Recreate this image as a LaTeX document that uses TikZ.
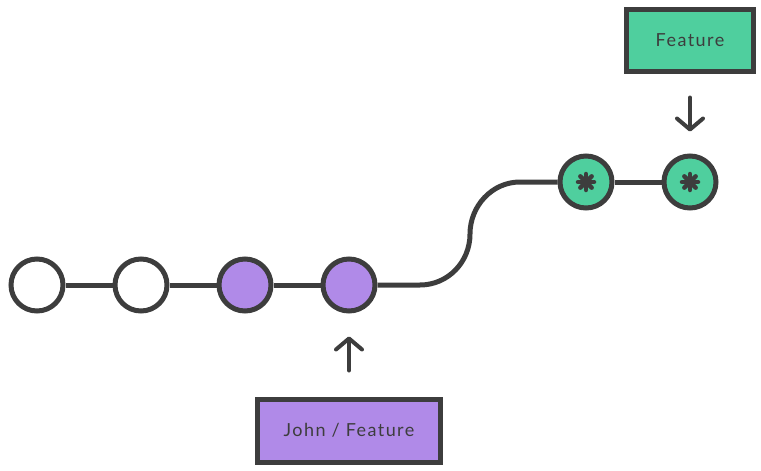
\documentclass[tikz,border=0pt]{standalone}
\usepackage{fontspec}
\setmainfont[LetterSpace=8]{Lato}
\usetikzlibrary{positioning, arrows.meta, calc}

\definecolor{ink}{HTML}{3D3D3D}
\definecolor{featgreen}{HTML}{4FCF9E}
\definecolor{johnpurple}{HTML}{B08AE8}

\tikzset{
    commit/.style={circle, draw=ink, line width=5pt, minimum size=52pt, inner sep=0pt, fill=white},
    mine/.style={commit, fill=johnpurple},
    theirs/.style={commit, fill=featgreen, path picture={
        \foreach \a in {0,45,90,135}
            \draw[ink, line width=4.5pt, line cap=round]
                ($(path picture bounding box.center)+(\a:8pt)$) -- ($(path picture bounding box.center)+(\a+180:8pt)$);
    }},
    branch/.style={draw=ink, line width=5pt, inner sep=0pt, font=\fontsize{18}{22}\selectfont, text=ink},
    pointer/.style={ink, line width=4pt, line cap=round, -{Straight Barb[length=11pt, width=26pt, round]}},
    link/.style={ink, line width=5pt}
}

\begin{document}
\begin{tikzpicture}[x=1pt, y=-1pt, node distance=104pt, on grid]
    \useasboundingbox (0,0) rectangle (761,471);

    \node[commit] (c1) at (37,285) {};
    \node[commit] (c2) [right=of c1] {};
    \node[mine] (c3) [right=of c2] {};
    \node[mine] (c4) [right=of c3] {};

    \node[theirs] (f1) at (586,182) {};
    \node[theirs] (f2) [right=of f1] {};

    \node[branch, fill=featgreen, minimum width=127pt, minimum height=62pt] (feat) [above=142pt of f2] {Feature};
    \node[branch, fill=johnpurple, minimum width=183pt, minimum height=63pt] (john) [below=145.5pt of c4] {John / Feature};

    \draw[link] (c1) -- (c2);
    \draw[link] (c2) -- (c3);
    \draw[link] (c3) -- (c4);
    \draw[link] (f1) -- (f2);
    \draw[link] (c4.east) -- (420,285)
        .. controls (448,285) and (470,262) .. (470,234)
        .. controls (470,206) and (492,182) .. (520,182) -- (f1.west);

    \draw[pointer, shorten <=24pt, shorten >=22pt] (feat) -- (f2);
    \draw[pointer, shorten <=26pt, shorten >=23pt] (john) -- (c4);
\end{tikzpicture}
\end{document}
